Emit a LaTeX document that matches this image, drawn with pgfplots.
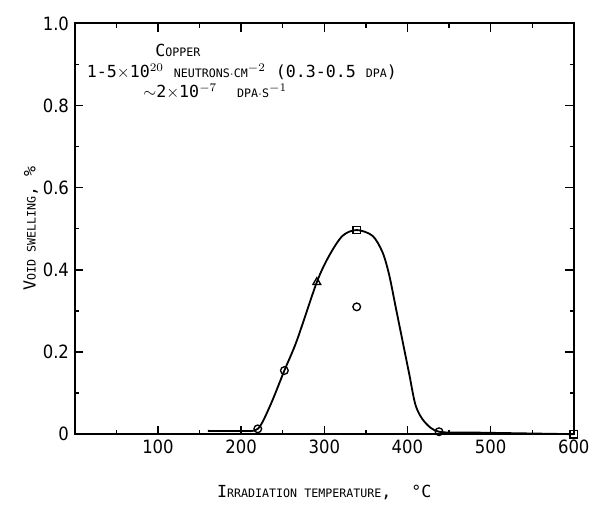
\documentclass[border=0pt]{standalone}
\usepackage{fontspec}
\setmainfont{DejaVu Sans Mono}
\newfontfamily\numfont{DejaVu Sans Condensed}
\usepackage{pgfplots}
\pgfplotsset{compat=1.18}
% fake small caps: lower-case letters typed as smaller capitals
\newcommand\sm[1]{{\scriptsize #1}}

\begin{document}
\begin{tikzpicture}
\begin{axis}[
    scale only axis,
    width=300pt, height=247pt,
    xmin=0, xmax=600,
    ymin=0, ymax=1,
    xtick={100,200,300,400,500,600},
    minor xtick={50,150,250,350,450,550},
    ytick={0,0.2,0.4,0.6,0.8,1.0},
    yticklabels={0,0.2,0.4,0.6,0.8,1.0},
    minor ytick={0.1,0.3,0.5,0.7,0.9},
    tick align=inside,
    major tick length=5pt,
    minor tick length=2.5pt,
    axis line style={line width=1.2pt},
    every tick/.style={black, line width=0.8pt},
    /pgf/number format/assume math mode=true,
    tick label style={font=\numfont\fontsize{11}{12}\selectfont},
    xlabel={I\sm{RRADIATION TEMPERATURE},\ \ \textdegree C},
    ylabel={V\sm{OID SWELLING}, \%},
    xlabel style={yshift=-12pt},
    ylabel style={yshift=-4pt},
    clip=false,
]
% fitted curve
\addplot[black, line width=1.1pt, smooth, tension=0.5] coordinates {
    (160,0.008) (200,0.008) (220,0.013) (235,0.07) (252,0.155) (267,0.228)
    (291,0.37) (306,0.435) (322,0.483) (339,0.497) (358,0.483) (370,0.443)
    (378,0.388) (386,0.308) (394,0.228) (402,0.148) (410,0.069) (421,0.029)
    (438,0.006) (480,0.004) (540,0.002) (600,0.0)
};
% open circles
\addplot[only marks, mark=o, mark size=2.3pt, black, thick, mark options={fill=white}] coordinates {
    (220,0.013) (252,0.155) (339,0.31) (438,0.006)
};
% triangle
\addplot[only marks, mark=triangle, mark size=2.7pt, black, thick, mark options={fill=white}] coordinates {
    (291,0.37)
};
% squares
\addplot[only marks, mark=square, mark size=2.2pt, black, thick, mark options={fill=white}] coordinates {
    (339,0.497) (600,0.0)
};
\node[anchor=center] at (axis cs:124,0.933) {C\sm{OPPER}};
\node[anchor=west, inner sep=0pt] at (axis cs:14,0.883) {1-5$\times$10$^{20}$ \sm{NEUTRONS$\cdot$CM}$^{-2}$ (0.3-0.5 \sm{DPA})};
\node[anchor=west, inner sep=0pt] at (axis cs:82,0.835) {$\sim$2$\times$10$^{-7}$ \ \sm{DPA$\cdot$S}$^{-1}$};
% page margins as in the reference
\path (rel axis cs:-0.15,-0.144) (rel axis cs:1.024,1.057);
\end{axis}
\end{tikzpicture}
\end{document}
